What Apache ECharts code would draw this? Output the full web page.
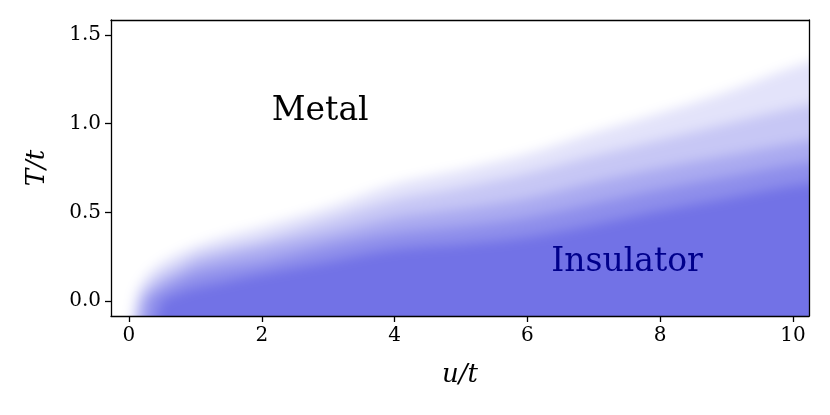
<!DOCTYPE html>
<html>
<head>
<meta charset="utf-8">
<script src="https://cdn.jsdelivr.net/npm/echarts@6/dist/echarts.min.js"></script>
<style>
  html, body { margin: 0; padding: 0; background: #fff; }
  #wrap { position: relative; width: 830px; height: 415px; }
  #clip { position: absolute; left: 111px; top: 20px; width: 698px; height: 296px; overflow: hidden; }
  #fill { position: absolute; left: -30px; top: -30px; width: 758px; height: 356px; filter: blur(6px); }
  #chart { position: absolute; left: 0; top: 0; width: 830px; height: 415px; }
</style>
</head>
<body>
<div id="wrap">
  <div id="clip"><div id="fill"></div></div>
  <div id="chart"></div>
</div>
<script>
const uVals = [0, 0.1, 0.2, 0.3, 0.5, 0.75, 1, 1.5, 2, 3, 4, 5, 6, 7, 8, 9, 10, 10.7];

// T/t where the blue intensity reaches 10%, 30%, 50%, 70%, 90%
const level10 = [-0.3, 0.04, 0.11, 0.16, 0.22, 0.27, 0.31, 0.37, 0.42, 0.53, 0.66, 0.74, 0.83, 0.95, 1.06, 1.18, 1.32, 1.40];
const level30 = [-0.3, -0.04, 0.05, 0.10, 0.16, 0.21, 0.26, 0.31, 0.35, 0.46, 0.57, 0.64, 0.72, 0.82, 0.91, 1.00, 1.09, 1.14];
const level50 = [-0.3, -0.3, -0.01, 0.05, 0.11, 0.16, 0.21, 0.26, 0.30, 0.38, 0.47, 0.52, 0.58, 0.67, 0.75, 0.82, 0.89, 0.93];
const level70 = [-0.3, -0.3, -0.3, 0.00, 0.06, 0.11, 0.15, 0.19, 0.22, 0.31, 0.38, 0.42, 0.47, 0.55, 0.63, 0.70, 0.77, 0.80];
const level90 = [-0.3, -0.3, -0.3, -0.3, -0.01, 0.04, 0.07, 0.11, 0.15, 0.22, 0.29, 0.32, 0.36, 0.43, 0.51, 0.58, 0.65, 0.68];

// fill colour of the band below each contour (white -> blue)
const bandColors = ['#e3e3fa', '#c7c7f5', '#aaaaf0', '#8e8eeb', '#7272e6'];

// text labels inside the diagram
const regionNames = ['Metal', 'Insulator'];
const regionU = [2.88, 7.5];
const regionT = [1.07, 0.22];
const regionColors = ['#000000', '#00008b'];

const xTicks = [0, 2, 4, 6, 8, 10];
const yTicks = [0, 0.5, 1, 1.5];

const xMin = -0.27, xMax = 10.24;
const yMin = -0.085, yMax = 1.585;

const levels = [level10, level30, level50, level70, level90];

// fill layer: same scales, drawn 30px larger on each side, then blurred and clipped to the plot
const pad = 30, plotW = 698, plotH = 296;
const xPad = pad * (xMax - xMin) / plotW;
const yPad = pad * (yMax - yMin) / plotH;

const fillChart = echarts.init(document.getElementById('fill'));
fillChart.setOption({
  animation: false,
  backgroundColor: '#fff',
  grid: { left: 0, right: 0, top: 0, bottom: 0 },
  xAxis: { type: 'value', min: xMin - xPad, max: xMax + xPad, show: false },
  yAxis: { type: 'value', min: yMin - yPad, max: yMax + yPad, show: false },
  series: levels.map((lv, i) => ({
    type: 'line',
    data: uVals.map((u, j) => [u, lv[j]]),
    smooth: 0.3,
    symbol: 'none',
    lineStyle: { width: 0, opacity: 0 },
    areaStyle: { origin: 'start', color: bandColors[i], opacity: 1 },
    silent: true
  }))
});

const chart = echarts.init(document.getElementById('chart'));

const tickLabelStyle = { fontFamily: 'DejaVu Serif', fontSize: 20, color: '#000' };
const nameStyle = { fontFamily: 'DejaVu Serif', fontStyle: 'italic', fontSize: 26, color: '#000' };
const frameLine = { show: true, onZero: false, lineStyle: { color: '#000', width: 1.3 } };

chart.setOption({
  animation: false,
  backgroundColor: 'transparent',
  grid: { left: 111, top: 20, right: 21, bottom: 99 },
  xAxis: [{
    type: 'value', min: xMin, max: xMax,
    name: 'u/t', nameLocation: 'middle', nameGap: 46, nameTextStyle: nameStyle,
    splitLine: { show: false },
    axisLine: frameLine,
    axisTick: { show: true, length: 6, lineStyle: { color: '#000', width: 1.3 }, customValues: xTicks },
    axisLabel: Object.assign({ margin: 10, customValues: xTicks }, tickLabelStyle)
  }, {
    type: 'value', position: 'top', min: xMin, max: xMax,
    splitLine: { show: false }, axisLine: frameLine,
    axisTick: { show: false }, axisLabel: { show: false }
  }],
  yAxis: [{
    type: 'value', min: yMin, max: yMax,
    name: 'T/t', nameLocation: 'middle', nameGap: 61, nameRotate: 90, nameTextStyle: nameStyle,
    splitLine: { show: false },
    axisLine: frameLine,
    axisTick: { show: true, length: 6, lineStyle: { color: '#000', width: 1.3 }, customValues: yTicks },
    axisLabel: Object.assign({ margin: 10, customValues: yTicks, formatter: v => v.toFixed(1) }, tickLabelStyle)
  }, {
    type: 'value', position: 'right', min: yMin, max: yMax,
    splitLine: { show: false }, axisLine: frameLine,
    axisTick: { show: false }, axisLabel: { show: false }
  }],
  series: [{
    type: 'scatter',
    symbolSize: 0,
    itemStyle: { opacity: 1 },
    data: regionNames.map((name, i) => ({
      value: [regionU[i], regionT[i]],
      label: {
        show: true,
        position: 'inside',
        formatter: name,
        color: regionColors[i],
        fontFamily: 'DejaVu Serif',
        fontSize: 33
      }
    }))
  }]
});
</script>
</body>
</html>
